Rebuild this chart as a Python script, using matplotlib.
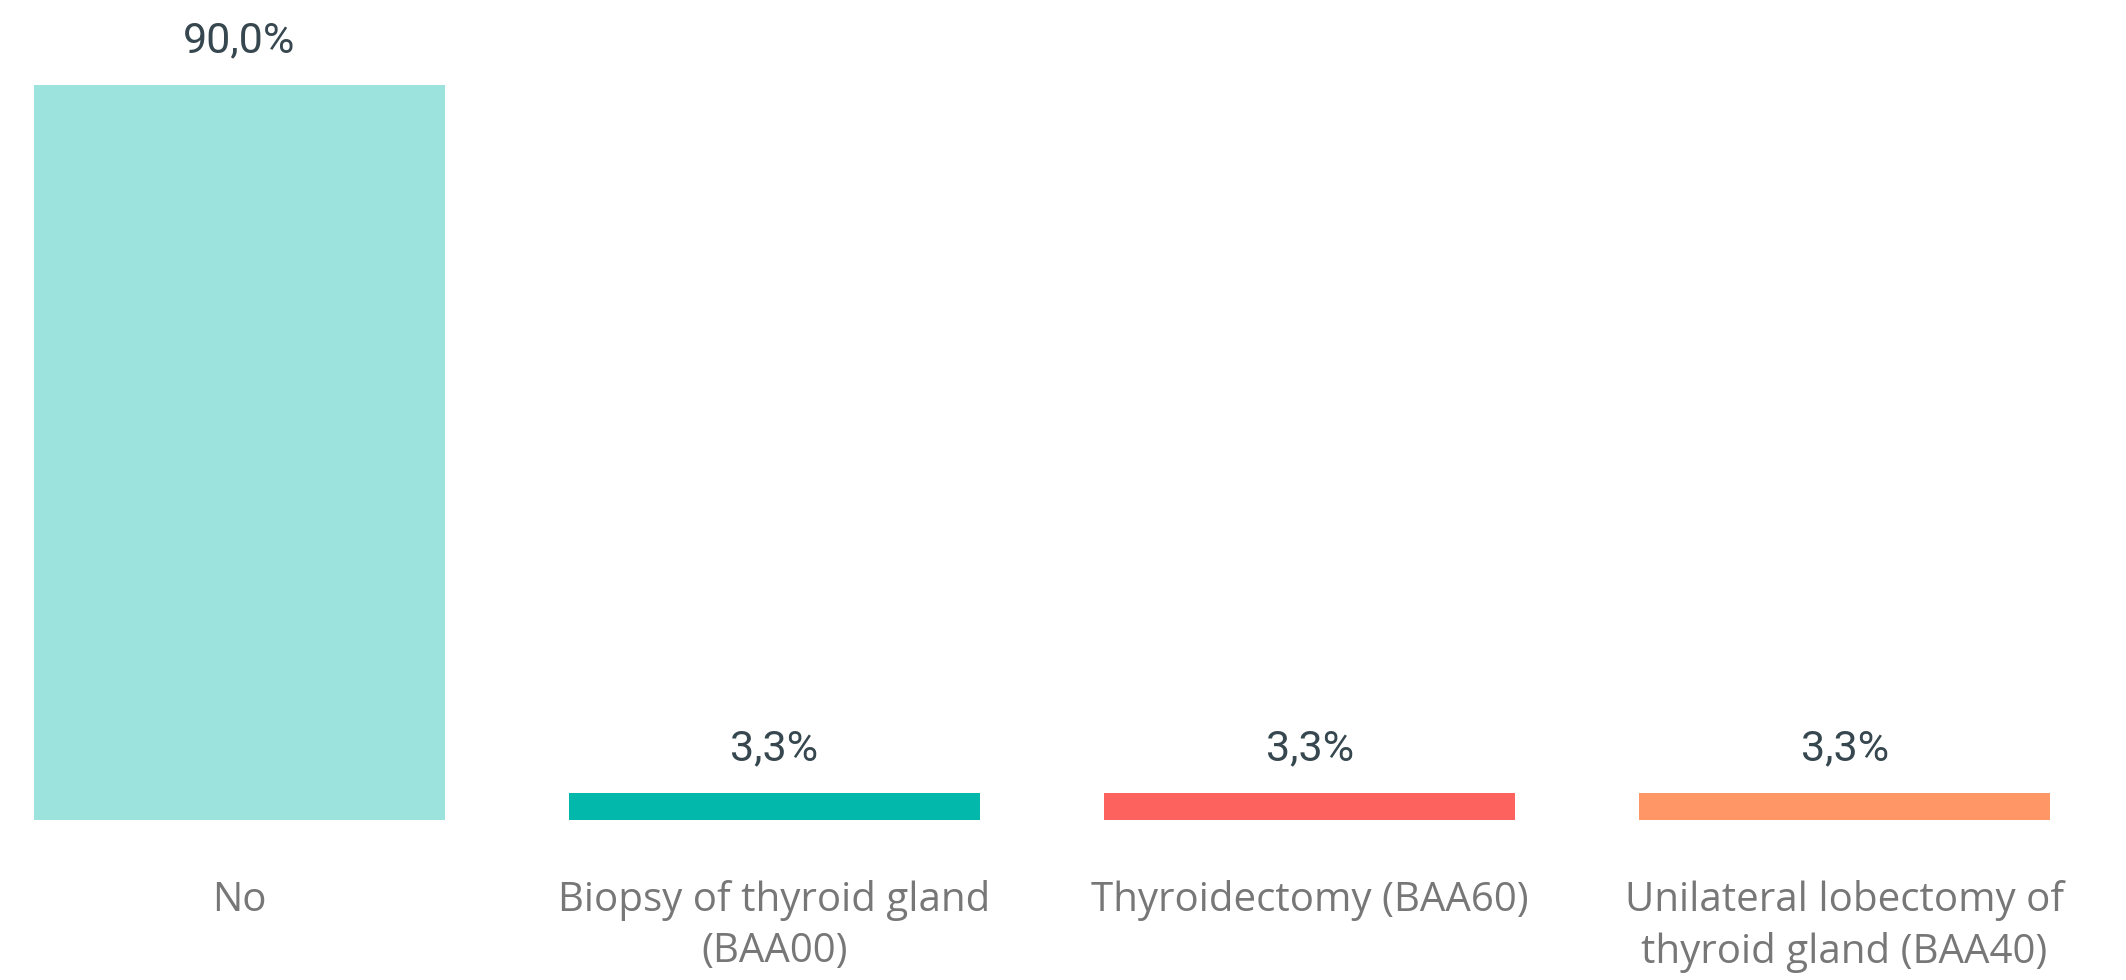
import matplotlib
matplotlib.use("Agg")
import matplotlib.pyplot as plt
import matplotlib.transforms as mtransforms

categories = ["No", "Biopsy of thyroid gland\n(BAA00)", "Thyroidectomy (BAA60)",
              "Unilateral lobectomy of\nthyroid gland (BAA40)"]
values = [90.0, 3.3, 3.3, 3.3]
value_labels = ["90,0%", "3,3%", "3,3%", "3,3%"]
colors = ["#9BE3DC", "#01B8AA", "#FD625E", "#FE9666"]

W, H = 2126, 980
dpi = 100
fig = plt.figure(figsize=(W / dpi, H / dpi), dpi=dpi)
ax = fig.add_axes([0, (H - 820) / H, 1, 735 / H])
xs = list(range(len(categories)))
ax.bar(xs, values, width=0.768, color=colors)
ax.set_ylim(0, 90)
ax.set_xlim(-0.4477, 3.526)
ax.axis("off")

for x, v, lab in zip(xs, values, value_labels):
    ax.annotate(lab, (x, v), xytext=(0, 17), textcoords="offset points",
                ha="center", va="bottom", fontsize=31, family="Roboto",
                color="#37474F")

trans = mtransforms.blended_transform_factory(ax.transData, ax.transAxes)
for x, cat in zip(xs, categories):
    ax.text(x, -0.082, cat, transform=trans, ha="center", va="top",
            fontsize=29, family="Open Sans", color="#777777", linespacing=1.33)

fig.savefig("out.png", dpi=dpi, facecolor="white")
